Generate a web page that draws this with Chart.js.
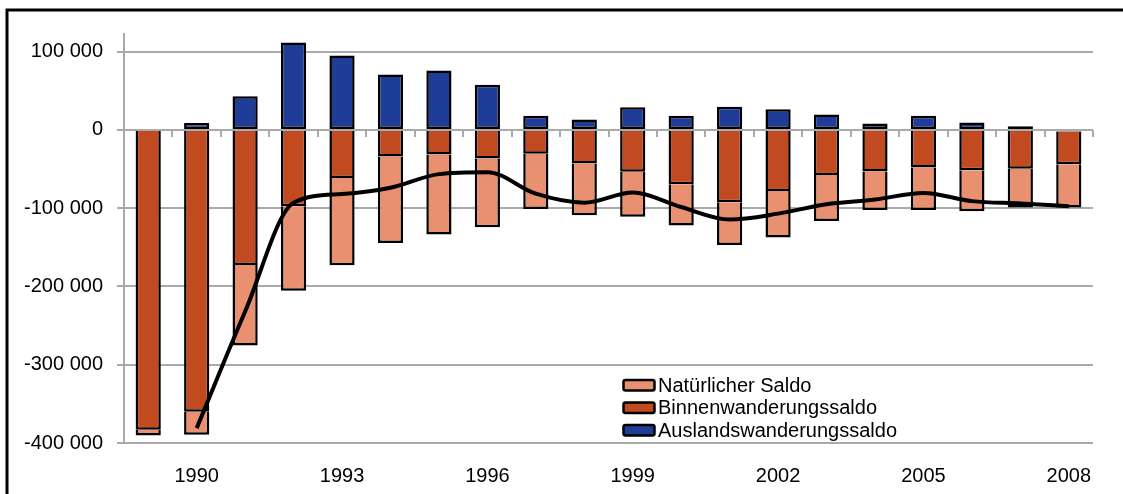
<!DOCTYPE html>
<html>
<head>
<meta charset="utf-8">
<script src="https://cdn.jsdelivr.net/npm/chart.js@4.4.1/dist/chart.umd.min.js"></script>
<style>
  html, body { margin: 0; padding: 0; background: #fff; }
  #wrap { width: 1123px; height: 494px; }
</style>
</head>
<body>
<div id="wrap"><canvas id="chart" width="1123" height="494"></canvas></div>
<script>
// Jahre und Salden
var jahre = [1989, 1990, 1991, 1992, 1993, 1994, 1995, 1996, 1997, 1998,
             1999, 2000, 2001, 2002, 2003, 2004, 2005, 2006, 2007, 2008];

var auslandsSaldo = [0, 8700, 43000, 111500, 95000, 70700, 75800, 57600, 18000, 13400,
                     29000, 18000, 29500, 26500, 19700, 8300, 18000, 9500, 4500, -2000];

var binnenSaldo = [-383000, -360000, -172500, -97500, -61500, -34000, -31500, -36500, -30500, -43000,
                   -53500, -69500, -92500, -78000, -57500, -53000, -48000, -51500, -49500, -42000];

var natuerlicherSaldo = [-7500, -29500, -103000, -108000, -111500, -110500, -102000, -88000, -70500, -66000,
                         -57500, -52500, -54500, -59500, -59000, -49500, -54500, -52500, -49500, -55000];

var gesamtSaldo = [null, -381000, -232000, -93000, -82000, -74000, -56500, -54000, -81500, -93000,
                   -80000, -98500, -114500, -107000, -95000, -89000, -80500, -91000, -94000, -97500];

var yTicks = [-400000, -300000, -200000, -100000, 0, 100000];

var farben = {
    natuerlich: "#e8906f",
    binnen: "#c24a21",
    ausland: "#1f3c96"
};

function formatZahl(v) {
    var s = Math.abs(v).toString().replace(/\B(?=(\d{3})+(?!\d))/g, " ");
    return (v < 0 ? "-" : "") + s;
}

Chart.defaults.font.family = "'Liberation Sans', Arial, sans-serif";
Chart.defaults.font.size = 20;
Chart.defaults.color = "#000";

// Rahmen oben und links
var rahmen = {
    id: "rahmen",
    beforeDraw: function (chart) {
        var c = chart.ctx;
        c.save();
        c.strokeStyle = "#000";
        c.lineWidth = 3;
        c.beginPath();
        c.moveTo(7, 494);
        c.lineTo(7, 10);
        c.lineTo(1123, 10);
        c.stroke();
        c.restore();
    }
};

// Legende im Diagramm
var legende = {
    id: "legende",
    afterDraw: function (chart) {
        var c = chart.ctx;
        var eintraege = [
            { text: "Natürlicher Saldo", farbe: farben.natuerlich },
            { text: "Binnenwanderungssaldo", farbe: farben.binnen },
            { text: "Auslandswanderungssaldo", farbe: farben.ausland }
        ];
        c.save();
        c.font = "20px 'Liberation Sans', Arial, sans-serif";
        c.textBaseline = "middle";
        eintraege.forEach(function (e, i) {
            var y = 385 + i * 22.5;
            c.fillStyle = e.farbe;
            c.strokeStyle = "#000";
            c.lineWidth = 2.5;
            c.beginPath();
            c.roundRect(623.5, y - 5, 31, 10.5, 2);
            c.fill();
            c.stroke();
            c.fillStyle = "#000";
            c.fillText(e.text, 658, y + 1);
        });
        c.restore();
    }
};

var ctx = document.getElementById("chart").getContext("2d");

new Chart(ctx, {
    data: {
        labels: jahre.map(String),
        datasets: [
            {
                type: "line",
                label: "Saldo insgesamt",
                data: gesamtSaldo,
                borderColor: "#000",
                borderWidth: 4,
                pointRadius: 0,
                fill: false,
                cubicInterpolationMode: "monotone",
                stack: "gesamt",
                order: 0
            },
            {
                type: "bar",
                label: "Auslandswanderungssaldo",
                data: auslandsSaldo,
                backgroundColor: farben.ausland,
                borderColor: "#000",
                borderWidth: 2.5,
                borderSkipped: false,
                stack: "s",
                order: 1
            },
            {
                type: "bar",
                label: "Binnenwanderungssaldo",
                data: binnenSaldo,
                backgroundColor: farben.binnen,
                borderColor: "#000",
                borderWidth: 2.5,
                stack: "s",
                order: 1
            },
            {
                type: "bar",
                label: "Natürlicher Saldo",
                data: natuerlicherSaldo,
                backgroundColor: farben.natuerlich,
                borderColor: "#000",
                borderWidth: 2.5,
                stack: "s",
                order: 1
            }
        ]
    },
    options: {
        responsive: false,
        animation: false,
        categoryPercentage: 1,
        barPercentage: 0.52,
        layout: { padding: { left: 0, top: 34, right: 30, bottom: 0 } },
        plugins: {
            legend: { display: false },
            tooltip: { enabled: false }
        },
        scales: {
            x: {
                type: "category",
                stacked: true,
                offset: true,
                grid: { display: false, drawTicks: false },
                border: { display: false },
                ticks: {
                    autoSkip: false,
                    maxRotation: 0,
                    padding: 21,
                    callback: function (val, i) {
                        return (jahre[i] - 1990) % 3 === 0 ? String(jahre[i]) : "";
                    }
                },
                afterFit: function (s) { s.height = 51; }
            },
            xNull: {
                type: "category",
                position: { y: 0 },
                offset: true,
                grid: {
                    offset: true,
                    drawOnChartArea: false,
                    drawTicks: true,
                    tickLength: 7,
                    color: "#aaaaaa",
                    lineWidth: 2
                },
                border: { display: false },
                ticks: { display: false }
            },
            y: {
                stacked: true,
                min: -400000,
                max: 122500,
                ticks: {
                    stepSize: 100000,
                    padding: 14,
                    callback: function (v) { return formatZahl(v); }
                },
                afterBuildTicks: function (s) {
                    s.ticks = yTicks.map(function (v) { return { value: v }; });
                },
                grid: { color: "#aaaaaa", lineWidth: 2, tickLength: 7 },
                border: { color: "#aaaaaa", width: 2 },
                afterFit: function (s) { s.width = 124; }
            }
        }
    },
    plugins: [rahmen, legende]
});
</script>
</body>
</html>
